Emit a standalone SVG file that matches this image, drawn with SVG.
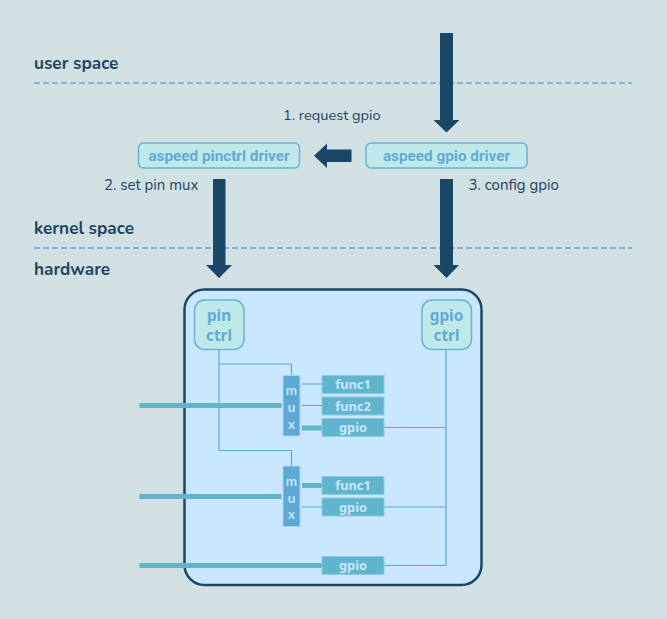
<svg xmlns="http://www.w3.org/2000/svg" width="667" height="619" viewBox="0 0 667 619">
<style>
.lbl{font-family:"Nunito","Noto Sans","Open Sans",sans-serif;fill:#1f4560}
.head{font-size:17.2px;font-weight:700}
.step{font-size:15px}
.drv{fill:#bfe9e8;stroke:#6db0d8;stroke-width:1.5}
.drvt{font-family:Roboto,"Liberation Sans",sans-serif;font-weight:700;font-size:15.3px;fill:#63a9d8;text-anchor:middle}
.ctlt{font-family:"Noto Sans","Open Sans",sans-serif;font-weight:700;font-size:15.3px;fill:#63a9d8;text-anchor:middle}
.mux{fill:#5ea8d5;stroke:#a9d6ef;stroke-width:1}
.muxt{font-family:Lato,"Noto Sans",sans-serif;font-weight:700;font-size:13.5px;fill:#c9e7fe;text-anchor:middle}
.fn{fill:#60b4cc;stroke:#8ccbe0;stroke-width:1}
.fnt{font-family:"Noto Sans","Open Sans",sans-serif;font-weight:700;font-size:12.8px;fill:#c9e7fe;text-anchor:middle}
.thin{fill:none;stroke:#5ea8d5;stroke-width:1.2}
.thick{fill:none;stroke:#60b4cc;stroke-width:5}
.dash{stroke:#62aada;stroke-width:1.3;stroke-dasharray:6 3;fill:none}
.arrow{fill:#1a4766}
</style>
<rect id="background" x="0" y="0" width="667" height="619" fill="#d1e0e3"/>
<g id="dividers">
<line class="dash" x1="34" y1="83" x2="632" y2="83"/>
<line class="dash" x1="34" y1="248" x2="632" y2="248"/>
</g>
<g id="labels">
<text class="lbl head" x="34" y="69">user space</text>
<text class="lbl head" x="34" y="234">kernel space</text>
<text class="lbl head" x="34" y="275">hardware</text>
<text class="lbl step" x="283" y="120" style="font-size:14.6px">1. request gpio</text>
<text class="lbl step" x="104" y="190">2. set pin mux</text>
<text class="lbl step" x="468.500" y="190">3. config gpio</text>
</g>
<g id="hardware-box"><rect x="184.500" y="289.500" width="297" height="295.500" rx="20" fill="#c9e7fe" stroke="#1a4766" stroke-width="2.500"/></g>
<g id="connectors">
<polygon class="arrow" points="440,33 453,33 453,120 459.500,120 446.500,132.500 433.500,120 440,120"/>
<polygon class="arrow" points="351.500,149.500 351.500,162 327,162 327,168 314,155.700 327,143.500 327,149.500"/>
<polygon class="arrow" points="213,179 225.500,179 225.500,265 232,265 219,278 206,265 213,265"/>
<polygon class="arrow" points="440,179 453,179 453,265 459,265 446.500,278 433.500,265 440,265"/>
<path class="thin" d="M219 350V450.500H291.500V466"/>
<path class="thin" d="M219 364H291.500V375"/>
<path class="thin" d="M446 350V565.500H384M446 427.500H384M446 507H384"/>
<path class="thin" d="M302 384H322M302 405.500H322M302 507H322"/>
<path class="thick" d="M302 428H322M302 485.500H322"/>
<path class="thick" d="M139.500 405.500H281.500M139.500 496.500H281.500M139.500 565.500H322"/>
</g>
<g id="pinctrl-driver"><rect class="drv" x="138.500" y="143" width="161" height="25" rx="5"/><text class="drvt" x="219" y="161">aspeed pinctrl driver</text></g>
<g id="gpio-driver"><rect class="drv" x="366" y="143" width="161" height="25" rx="5"/><text class="drvt" x="446.500" y="161">aspeed gpio driver</text></g>
<g id="pin-ctrl"><rect class="drv" x="194.500" y="300" width="49.500" height="49.500" rx="10"/><text class="ctlt" x="219" y="321">pin</text><text class="ctlt" x="219" y="341">ctrl</text></g>
<g id="gpio-ctrl"><rect class="drv" x="422" y="300" width="49.500" height="49.500" rx="10"/><text class="ctlt" x="446.500" y="321">gpio</text><text class="ctlt" x="446.500" y="341">ctrl</text></g>
<g id="mux1"><rect class="mux" x="283" y="375.500" width="17" height="60.500"/><text class="muxt" x="291.500" y="395">m</text><text class="muxt" x="291.500" y="412">u</text><text class="muxt" x="291.500" y="428.500">x</text></g>
<g id="mux2"><rect class="mux" x="283" y="466" width="17" height="60.500"/><text class="muxt" x="291.500" y="486">m</text><text class="muxt" x="291.500" y="502.500">u</text><text class="muxt" x="291.500" y="519">x</text></g>
<g id="func1-a"><rect class="fn" x="322" y="375.500" width="62" height="18"/><text class="fnt" x="353" y="389">func1</text></g>
<g id="func2-a"><rect class="fn" x="322" y="397" width="62" height="18"/><text class="fnt" x="353" y="411">func2</text></g>
<g id="gpio-a"><rect class="fn" x="322" y="418.500" width="62" height="18"/><text class="fnt" x="353" y="432">gpio</text></g>
<g id="func1-b"><rect class="fn" x="322" y="476.500" width="62" height="18"/><text class="fnt" x="353" y="490">func1</text></g>
<g id="gpio-b"><rect class="fn" x="322" y="498" width="62" height="18"/><text class="fnt" x="353" y="512">gpio</text></g>
<g id="gpio-c"><rect class="fn" x="322" y="556.500" width="62" height="18"/><text class="fnt" x="353" y="570">gpio</text></g>
</svg>
